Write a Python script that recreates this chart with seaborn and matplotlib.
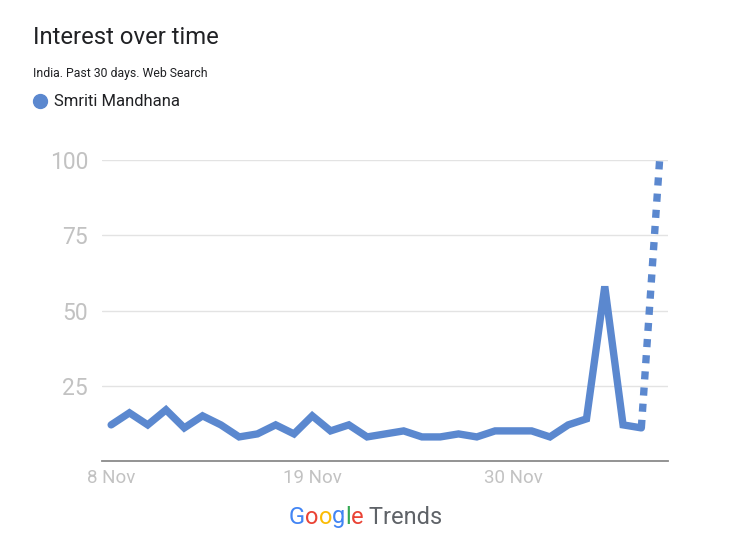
import matplotlib
matplotlib.use("Agg")
import matplotlib.dates as mdates
import matplotlib.pyplot as plt
import pandas as pd
import seaborn as sns

# daily interest, 8 Nov .. 8 Dec (last day is partial data -> dotted)
dates = pd.date_range("2024-11-08", "2024-12-08", freq="D")
interest = [12, 16, 12, 17, 11, 15, 12, 8, 9, 12, 9, 15, 10, 12, 8, 9, 10, 8, 8, 9,
            8, 10, 10, 10, 8, 12, 14, 58, 12, 11, 100]
term = "Smriti Mandhana"
tick_dates = ["2024-11-08", "2024-11-19", "2024-11-30"]
y_ticks = [25, 50, 75, 100]

LINE = "#5B88CF"
GRID = "#E3E3E3"
LABEL = "#C2C2C2"
INK = "#202124"

df = pd.DataFrame({"date": dates, "interest": interest})
full = df.iloc[:-1]
partial = df.iloc[-2:]

sns.set_theme(style="white")
plt.rcParams["font.family"] = ["Roboto", "DejaVu Sans"]

fig = plt.figure(figsize=(7.30, 5.44), dpi=100)
ax = fig.add_axes([102 / 730, 83 / 544, 566 / 730, 301 / 544])

sns.lineplot(data=full, x="date", y="interest", color=LINE, lw=5.3,
             solid_joinstyle="miter", ax=ax, clip_on=False)
sns.lineplot(data=partial, x="date", y="interest", color=LINE, lw=5.3,
             linestyle=(0, (1.1, 1.1)), dash_capstyle="butt", ax=ax, clip_on=False)

ax.set_ylim(0, 100)
ax.set_xlim(dates[0] - pd.Timedelta(hours=12), dates[-1] + pd.Timedelta(hours=11))
ax.set_yticks(y_ticks)
ax.set_xticks(pd.to_datetime(tick_dates))
ax.xaxis.set_major_formatter(mdates.DateFormatter("%-d %b"))
ax.grid(axis="y", color=GRID, lw=1)
ax.set_axisbelow(True)
for side in ["top", "right", "left"]:
    ax.spines[side].set_visible(False)
ax.spines["bottom"].set_color("#8A8A8A")
ax.spines["bottom"].set_linewidth(1.3)
ax.tick_params(axis="y", length=0, pad=10, labelsize=16.5, labelcolor=LABEL)
ax.tick_params(axis="x", length=0, pad=6, labelsize=13.5, labelcolor=LABEL)
ax.set_xlabel("")
ax.set_ylabel("")

fig.text(33 / 730, 1 - 38 / 544, "Interest over time", fontsize=17.2, color=INK,
         va="center", ha="left")
fig.text(33 / 730, 1 - 73 / 544, "India. Past 30 days. Web Search", fontsize=8.8,
         color=INK, va="center", ha="left")
fig.add_artist(plt.Line2D([40 / 730], [1 - 101 / 544], marker="o", markersize=10,
                          color=LINE, transform=fig.transFigure))
fig.text(54 / 730, 1 - 101 / 544, term, fontsize=12, color=INK, va="center", ha="left")

# Google Trends mark
logo = [("G", "#4285F4"), ("o", "#EA4335"), ("o", "#FBBC05"), ("g", "#4285F4"),
        ("l", "#34A853"), ("e", "#EA4335"), (" Trends", "#5F6368")]
fig.canvas.draw()
renderer = fig.canvas.get_renderer()
x = 289
for letter, colour in logo:
    t = fig.text(x / 730, 1 - 517 / 544, letter, fontsize=17, color=colour,
                 va="center", ha="left")
    x += t.get_window_extent(renderer).width

fig.savefig("out.png", dpi=100)
